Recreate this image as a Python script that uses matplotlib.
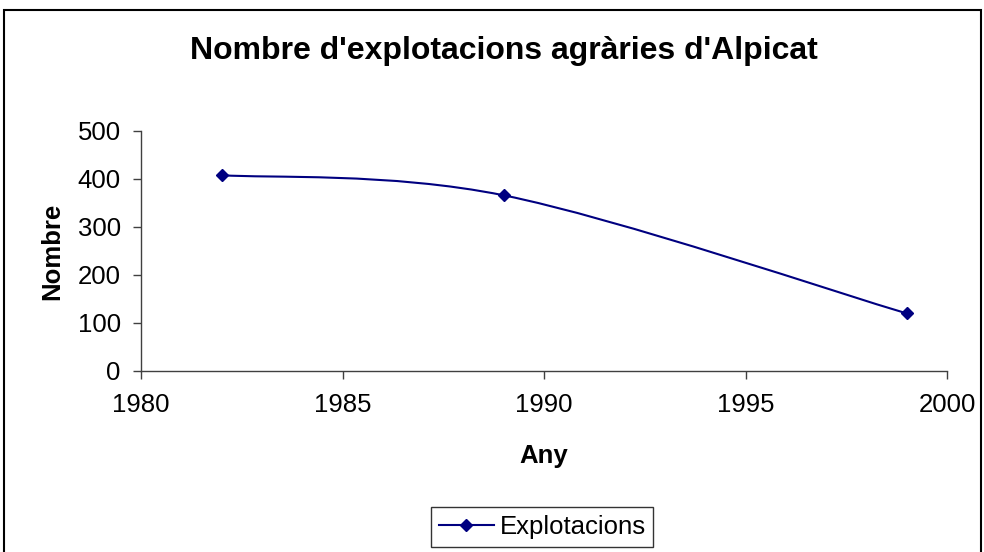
import numpy as np
import matplotlib.pyplot as plt
from matplotlib.path import Path
from matplotlib.patches import PathPatch, Rectangle
from matplotlib.lines import Line2D

# data
years = [1982, 1989, 1999]
explotacions = [408, 366, 120]
title = "Nombre d'explotacions agràries d'Alpicat"
series_name = 'Explotacions'

plt.rcParams['font.family'] = ['Liberation Sans', 'DejaVu Sans']
navy = '#000080'
fs = 18.5

fig = plt.figure(figsize=(9.84, 5.52), dpi=100)
ax = fig.add_axes([0.1433, 0.3279, 0.8191, 0.4348])

# outer chart border (bottom edge runs off the image like the reference)
fig.patches.append(Rectangle((4/984, -0.05), 977/984, 1.05 - 10/552, transform=fig.transFigure,
                             fill=False, edgecolor='black', lw=1.5))

# smoothed line like Excel (bezier through points, tension 1/6)
pts = np.column_stack([years, explotacions]).astype(float)
verts = [pts[0]]
codes = [Path.MOVETO]
n = len(pts)
for i in range(n - 1):
    p_prev = pts[max(i - 1, 0)]
    p0 = pts[i]
    p1 = pts[i + 1]
    p_next = pts[min(i + 2, n - 1)]
    c1 = p0 + (p1 - p_prev) / 6
    c2 = p1 - (p_next - p0) / 6
    verts += [c1, c2, p1]
    codes += [Path.CURVE4] * 3
ax.add_patch(PathPatch(Path(verts, codes), fill=False, edgecolor=navy, lw=1.5))
ax.plot(years, explotacions, linestyle='none', marker='D', markersize=6.5, color=navy)

ax.set_xlim(1980, 2000)
ax.set_ylim(0, 500)
ax.set_xticks([1980, 1985, 1990, 1995, 2000])
ax.set_yticks([0, 100, 200, 300, 400, 500])
ax.tick_params(labelsize=fs, length=6, width=1, color='#404040', direction='out')
ax.tick_params(axis='x', pad=10)
ax.tick_params(axis='y', pad=8.5)
for s in ['top', 'right']:
    ax.spines[s].set_visible(False)
for s in ['left', 'bottom']:
    ax.spines[s].set_color('#404040')
    ax.spines[s].set_linewidth(1)

ax.set_xlabel('Any', fontsize=fs, fontweight='bold', labelpad=19)
ax.set_ylabel('Nombre', fontsize=fs, fontweight='bold', labelpad=10)
fig.text(0.512, 0.907, title, ha='center', va='center', fontsize=23, fontweight='bold')

handle = Line2D([], [], color=navy, lw=1.5, marker='D', markersize=6.5)
leg = fig.legend([handle], [series_name], loc='center', bbox_to_anchor=(0.551, 0.0453),
                 fontsize=fs, frameon=True, fancybox=False, handlelength=2.14,
                 handletextpad=0.23, borderpad=0.3, borderaxespad=0)
leg.get_frame().set_edgecolor('black')
leg.get_frame().set_linewidth(1)

fig.savefig('out.png', dpi=100)
